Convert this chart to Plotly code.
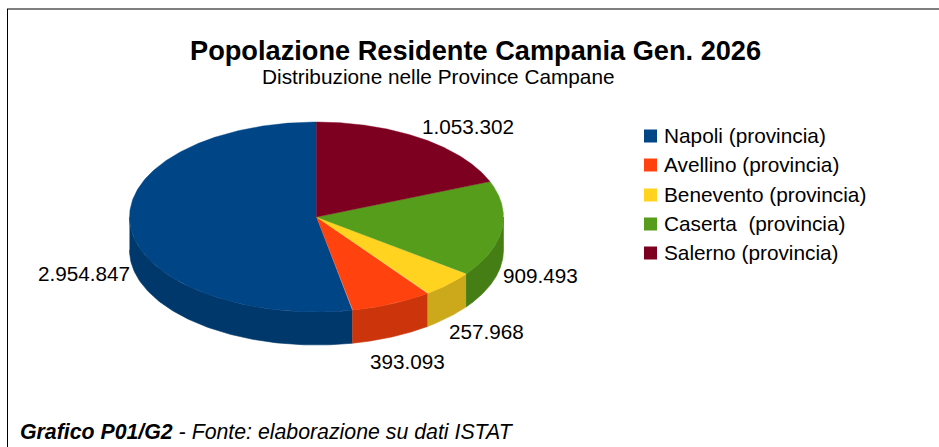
import numpy as np
import plotly.graph_objects as go

provinces = ["Napoli (provincia)", "Avellino (provincia)", "Benevento (provincia)", "Caserta  (provincia)", "Salerno (provincia)"]
population = [2954847, 393093, 257968, 909493, 1053302]
value_labels = ["2.954.847", "393.093", "257.968", "909.493", "1.053.302"]
top_colors = ["#004586", "#ff420e", "#ffd320", "#579d1c", "#7e0021"]
side_colors = ["#00386b", "#cc350b", "#cca91a", "#467e16", "#65001a"]

title_text = "Popolazione Residente Campania Gen. 2026"
subtitle_text = "Distribuzione nelle Province Campane"
footer_text = "<b><i>Grafico P01/G2</i></b><i> - Fonte: elaborazione su dati ISTAT</i>"

W, H = 939, 447
CX, CY, RX, RY, DEPTH = 316.5, 217, 187, 95, 33
FONT = "Liberation Sans"


def pt(a):
    # angle measured counter-clockwise from 12 o'clock, as the slices run
    return CX - RX * np.sin(a), CY - RY * np.cos(a)


fractions = np.array(population) / sum(population)
edges = np.concatenate([[0], np.cumsum(fractions)]) * 2 * np.pi

fig = go.Figure()

# side walls: only the front half (angles pi/2 .. 3pi/2) can be seen
for i in range(len(population)):
    a0, a1 = max(edges[i], np.pi / 2), min(edges[i + 1], 3 * np.pi / 2)
    if a1 <= a0:
        continue
    t = np.linspace(a0, a1, 120)
    x, y = pt(t)
    fig.add_trace(go.Scatter(
        x=np.concatenate([x, x[::-1]]), y=np.concatenate([y, (y + DEPTH)[::-1]]),
        mode="lines", fill="toself", fillcolor=side_colors[i],
        line=dict(width=0.6, color=side_colors[i]), hoverinfo="skip", showlegend=False))

# top faces
for i in range(len(population)):
    t = np.linspace(edges[i], edges[i + 1], 240)
    x, y = pt(t)
    fig.add_trace(go.Scatter(
        x=np.concatenate([[CX], x, [CX]]), y=np.concatenate([[CY], y, [CY]]),
        mode="lines", fill="toself", fillcolor=top_colors[i],
        line=dict(width=0.4, color=top_colors[i]), name=provinces[i],
        hoverinfo="name", showlegend=False))

# legend
legend_y = [136, 165, 195, 224, 253]
fig.add_trace(go.Scatter(
    x=[650.5] * 5, y=legend_y, mode="markers",
    marker=dict(symbol="square", size=13, color=top_colors, line=dict(width=0)),
    hoverinfo="skip", showlegend=False))

ann = []
def text(x, y, s, size, anchor="center", weight=None):
    ann.append(dict(x=x, y=y, xref="x", yref="y", text=s, showarrow=False, xanchor=anchor, yanchor="middle",
                    font=dict(family=FONT, size=size, color="#000000", weight=weight)))

for name, y in zip(provinces, legend_y):
    text(662, y - 1, name.replace("  ", "&nbsp; "), 20.8, "left")

label_xy = [(84, 273), (407, 361), (486.5, 331), (540.5, 275), (468, 126)]
for s, (x, y) in zip(value_labels, label_xy):
    text(x, y, s, 20.7)

text(475, 50, title_text, 27.2, weight="bold")
text(438, 76, subtitle_text, 20.8)
text(18, 432, footer_text, 21.3, "left")

hidden = dict(visible=False, fixedrange=True)
fig.update_layout(
    width=W, height=H, margin=dict(l=0, r=0, t=0, b=0),
    paper_bgcolor="#ffffff", plot_bgcolor="#ffffff", showlegend=False,
    xaxis=dict(range=[0, W], **hidden),
    yaxis=dict(range=[H, 0], **hidden),
    annotations=ann,
    shapes=[
        dict(type="line", xref="x", yref="y", x0=7, x1=W, y0=9, y1=9, line=dict(color="#7f7f7f", width=2)),
        dict(type="line", xref="x", yref="y", x0=7.5, x1=7.5, y0=9, y1=H, line=dict(color="#000000", width=1)),
    ],
)

fig.write_html("out.html", config=dict(displayModeBar=False),
               post_script="document.body.style.margin='0';document.documentElement.style.overflow='hidden';")
